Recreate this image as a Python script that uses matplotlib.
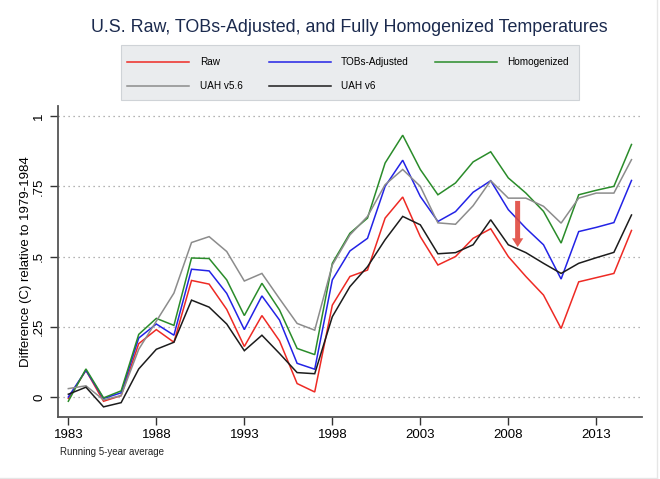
"""U.S. raw, TOBs-adjusted and fully homogenized temperatures vs UAH satellite series."""
import matplotlib
matplotlib.use("Agg")
import matplotlib.pyplot as plt
from matplotlib.patches import Rectangle, FancyArrowPatch
from matplotlib.lines import Line2D

plt.rcParams["font.family"] = ["Liberation Sans", "DejaVu Sans"]

# ---- data (running 5-year averages, deg C relative to 1979-1984) ----
years = list(range(1983, 2016))

raw = [-0.005, 0.095, -0.015, 0.005, 0.19, 0.24, 0.195, 0.415, 0.402, 0.312,
       0.18, 0.29, 0.2, 0.048, 0.018, 0.327, 0.429, 0.452, 0.637, 0.712,
       0.571, 0.47, 0.5, 0.565, 0.599, 0.5, 0.429, 0.363, 0.244, 0.41,
       0.425, 0.44, 0.593]
tobs = [0.0, 0.095, -0.005, 0.015, 0.21, 0.26, 0.22, 0.455, 0.449, 0.369,
        0.24, 0.36, 0.274, 0.12, 0.099, 0.417, 0.52, 0.565, 0.75, 0.843,
        0.714, 0.625, 0.66, 0.729, 0.77, 0.667, 0.601, 0.542, 0.42, 0.589,
        0.604, 0.621, 0.771]
homog = [-0.015, 0.1, -0.003, 0.022, 0.223, 0.28, 0.255, 0.495, 0.493, 0.417,
         0.29, 0.405, 0.31, 0.173, 0.151, 0.476, 0.583, 0.637, 0.833, 0.932,
         0.81, 0.72, 0.762, 0.837, 0.873, 0.78, 0.726, 0.661, 0.548, 0.72,
         0.736, 0.75, 0.899]
uah56 = [0.03, 0.04, -0.01, 0.005, 0.17, 0.27, 0.37, 0.55, 0.571, 0.518,
         0.413, 0.44, 0.35, 0.262, 0.238, 0.47, 0.577, 0.643, 0.756, 0.81,
         0.75, 0.62, 0.615, 0.681, 0.77, 0.708, 0.708, 0.679, 0.619, 0.708,
         0.726, 0.726, 0.845]
uah6 = [0.01, 0.035, -0.035, -0.02, 0.1, 0.17, 0.195, 0.345, 0.32, 0.26,
        0.165, 0.22, 0.155, 0.087, 0.083, 0.286, 0.393, 0.464, 0.56, 0.643,
        0.613, 0.51, 0.514, 0.542, 0.631, 0.542, 0.514, 0.476, 0.44, 0.476,
        0.496, 0.515, 0.648]

series = [
    ("Raw", raw, "#ee2a24"),
    ("TOBs-Adjusted", tobs, "#2323e6"),
    ("Homogenized", homog, "#2a8c2a"),
    ("UAH v5.6", uah56, "#8c8c8c"),
    ("UAH v6", uah6, "#1c1c1c"),
]

xticks = [1983, 1988, 1993, 1998, 2003, 2008, 2013]
yticks = [0, 0.25, 0.5, 0.75, 1]
ytick_labels = ["0", ".25", ".5", ".75", "1"]

# annotation arrow (v5.6 -> v6 drop)
arrow_x = 2008.53
arrow_from, arrow_to = 0.708, 0.524

W, H = 660, 479
fig = plt.figure(figsize=(W / 100, H / 100), dpi=100)
fig.patch.set_facecolor("white")

ax = fig.add_axes([58.3 / W, 1 - 416.7 / H, (641.7 - 58.3) / W, (416.7 - 106) / H])

for name, vals, col in series:
    ax.plot(years, vals, color=col, lw=1.1, label=name, solid_joinstyle="miter")

ax.set_xlim(1982.43, 2015.58)
ax.set_ylim(-0.07, 1.036)

ax.set_xticks(xticks)
ax.set_yticks(yticks)
ax.set_yticklabels(ytick_labels, rotation=90, va="center")
ax.tick_params(axis="both", labelsize=9.5, colors="#333333", labelcolor="black",
               length=5.5, width=1.0, direction="out")
ax.tick_params(axis="x", pad=3)
ax.tick_params(axis="y", pad=4)

for y in yticks:
    ax.axhline(y, color="#9a9a9a", lw=0.9, ls=(0, (1, 3)), zorder=0)

for s in ["top", "right"]:
    ax.spines[s].set_visible(False)
for s in ["left", "bottom"]:
    ax.spines[s].set_color("#555555")
    ax.spines[s].set_linewidth(1.3)

ax.set_ylabel("Difference (C) relative to 1979-1984", fontsize=9.5, labelpad=1)

arrow = FancyArrowPatch((arrow_x, arrow_from), (arrow_x, arrow_to),
                        arrowstyle="simple,head_width=0.9,head_length=0.7,tail_width=0.4",
                        mutation_scale=9, color="#e0493f", alpha=0.9, lw=0, zorder=5)
ax.add_patch(arrow)

# title
fig.text(349 / W, 1 - 28 / H, "U.S. Raw, TOBs-Adjusted, and Fully Homogenized Temperatures",
         ha="center", va="center", fontsize=12.9, color="#1b2a4e")

# legend box
fig.patches.append(Rectangle((121 / W, 1 - 100 / H), (579 - 121) / W, 55 / H,
                             transform=fig.transFigure, facecolor="#eaecee",
                             edgecolor="#cfd3d7", lw=0.8, zorder=0))
handles = {name: Line2D([], [], color=col, lw=1.1) for name, _, col in series}
order = ["Raw", "UAH v5.6", "TOBs-Adjusted", "UAH v6", "Homogenized"]
leg = fig.legend([handles[n] for n in order], order, ncol=3, loc="center",
                 bbox_to_anchor=(348 / W, 1 - 74 / H), frameon=False, fontsize=7.2,
                 handlelength=6.2, handletextpad=1.05, columnspacing=2.6,
                 labelspacing=1.4, borderpad=0)

fig.text(60 / W, 1 - 452 / H, "Running 5-year average", ha="left", va="center",
         fontsize=7, color="#222222")

# faint outer edge (right and bottom)
fig.add_artist(Line2D([656.5 / W, 656.5 / W], [1.5 / H, 1], transform=fig.transFigure,
                      color="#e6e6e6", lw=1.0))
fig.add_artist(Line2D([0, 656.5 / W], [1.5 / H, 1.5 / H], transform=fig.transFigure,
                      color="#e6e6e6", lw=1.0))

fig.savefig("out.png", dpi=100)
